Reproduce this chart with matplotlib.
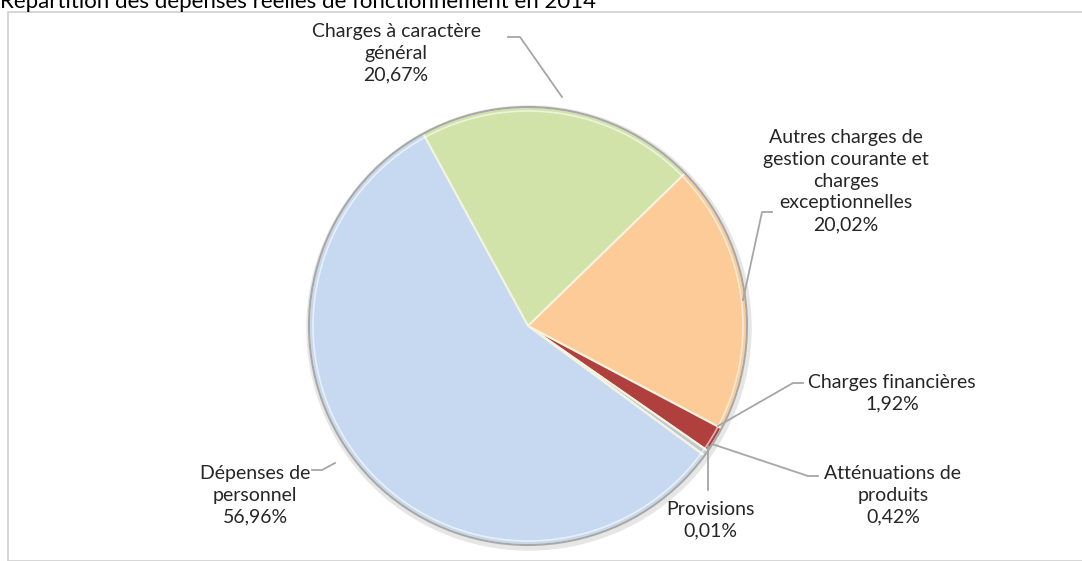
import matplotlib.pyplot as plt
from matplotlib.patches import Rectangle, Circle

plt.rcParams['font.family'] = ['Lato', 'DejaVu Sans']

W, H = 1082, 561

# données (ordre horaire depuis le haut)
categories = ['Charges à caractère\ngénéral', 'Autres charges de\ngestion courante et\ncharges\nexceptionnelles',
              'Charges financières', 'Atténuations de\nproduits', 'Provisions', 'Dépenses de\npersonnel']
values = [20.67, 20.02, 1.92, 0.42, 0.01, 56.96]
colors = ['#D2E3A9', '#FCCB98', '#B0403D', '#BFC9D6', '#D9D9D9', '#C6D9F1']

# position des étiquettes (pixels) et points d'ancrage des traits
label_pos = [(396, 53), (846, 181), (892, 393), (893, 495), (710, 520), (255, 495)]
leaders = [[(508, 37), (520, 37), (562, 97)],
           [(772, 212), (762, 212), (743, 300)],
           [(803, 383), (793, 383), (718, 426)],
           [(818, 476), (808, 476), (712, 444)],
           [(708, 490), (708, 480), (708, 446)],
           [(312, 470), (322, 470), (335, 463)]]


def py(y):
    return H - y


fig = plt.figure(figsize=(W / 100, H / 100), dpi=100)
ax = fig.add_axes([0, 0, 1, 1])

ax.add_patch(Rectangle((8, 0), W, py(12), fill=False, edgecolor='#D0D0D0', lw=1.2))
ax.text(0, py(2), 'Répartition des dépenses réelles de fonctionnement en 2014',
        fontsize=16, va='center', ha='left', color='black')

cx, cy, r = 528, 326, 219
ax.add_patch(Circle((cx + 1, py(cy) - 2), r + 3, color='#E6E6E6', zorder=1))
wedges, _ = ax.pie(values, colors=colors, startangle=118.6, counterclock=False,
                   center=(cx, py(cy)), radius=r, frame=True,
                   wedgeprops=dict(edgecolor='#F3F3E0', linewidth=1.5))
for w in wedges:
    w.set_zorder(2)
ax.add_patch(Circle((cx, py(cy)), r, fill=False, edgecolor='#A8A8A8', lw=1.5, zorder=3))
ax.add_patch(Circle((cx, py(cy)), r - 4, fill=False, edgecolor='white', lw=1.2, alpha=0.6, zorder=3))
ax.set_xlim(0, W)
ax.set_ylim(0, H)
ax.set_aspect('equal')
ax.axis('off')

for cat, v, (lx, ly), pts in zip(categories, values, label_pos, leaders):
    txt = cat + '\n' + ('%.2f%%' % v).replace('.', ',')
    ax.text(lx, py(ly), txt, ha='center', va='center', fontsize=14,
            color='#262626', linespacing=1.35, zorder=5)
    ax.plot([p[0] for p in pts], [py(p[1]) for p in pts], color='#A6A6A6', lw=1.3, zorder=4)

fig.savefig('out.png', dpi=100)
